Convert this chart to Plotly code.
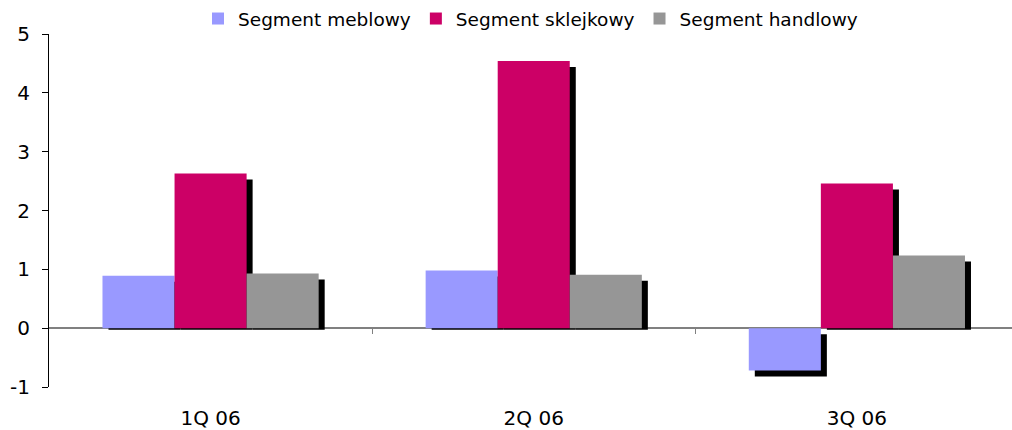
import plotly.graph_objects as go

categories = ["1Q 06", "2Q 06", "3Q 06"]
series_names = ["Segment meblowy", "Segment sklejkowy", "Segment handlowy"]
meblowy = [0.89, 0.98, -0.72]
sklejkowy = [2.63, 4.54, 2.46]
handlowy = [0.93, 0.91, 1.235]
colors = ["#9999FF", "#CC0066", "#969696"]
y_ticks = [-1, 0, 1, 2, 3, 4, 5]

series = [meblowy, sklejkowy, handlowy]

X_RANGE = [-0.5, 2.48]
BAR_W = 0.223
offsets = [-1.5 * BAR_W, -0.5 * BAR_W, 0.5 * BAR_W]
SH_DX = 0.0186   # shadow horizontal shift (category units)
SH_DY = 0.102    # shadow vertical shift (data units)
SH_B = 0.025     # shadow extension below zero for positive bars

FONT = "DejaVu Sans, Arial, sans-serif"

fig = go.Figure()

# shadows (behind)
for vals, off in zip(series, offsets):
    bases = [(-SH_B if v >= 0 else -SH_DY) for v in vals]
    heights = [(v - SH_DY + SH_B if v >= 0 else v) for v in vals]
    fig.add_trace(go.Bar(
        x=categories, y=heights, base=bases,
        width=BAR_W, offset=off + SH_DX,
        marker=dict(color="black", line=dict(width=0)),
        showlegend=False, hoverinfo="skip",
    ))

# bars
for name, vals, off, col in zip(series_names, series, offsets, colors):
    fig.add_trace(go.Bar(
        x=categories, y=vals, name=name,
        width=BAR_W, offset=off,
        marker=dict(color=col, line=dict(width=0)),
    ))

# dummy trace to activate the zero-line axis
fig.add_trace(go.Scatter(x=[0], y=[0], xaxis="x2", mode="markers",
                         marker=dict(opacity=0), showlegend=False, hoverinfo="skip"))

fig.update_layout(
    width=1012, height=430,
    margin=dict(l=49, r=0, t=34, b=43, autoexpand=False),
    paper_bgcolor="white", plot_bgcolor="white",
    barmode="overlay",
    font=dict(family=FONT, size=18.5, color="black"),
    showlegend=True,
    legend=dict(orientation="h", x=0.5, xanchor="center",
                y=1.0, yref="container", yanchor="top",
                font=dict(family=FONT, size=18.5, color="black"),
                traceorder="normal", itemwidth=30, tracegroupgap=0,
                bgcolor="rgba(0,0,0,0)"),
    xaxis=dict(
        type="category", range=X_RANGE, automargin=False,
        showline=False, showgrid=False, zeroline=False,
        ticks="outside", ticklen=13, tickcolor="rgba(0,0,0,0)",
        tickfont=dict(family=FONT, size=20, color="black"),
    ),
    xaxis2=dict(
        overlaying="x", anchor="free", position=1 / 6, automargin=False,
        range=X_RANGE, showgrid=False, zeroline=False,
        showline=True, linecolor="#808080", linewidth=1.5,
        ticks="outside", ticklen=5, tickcolor="#808080", tickwidth=1,
        tickvals=[0.5, 1.5], showticklabels=False, layer="below traces",
    ),
    yaxis=dict(
        range=[-1, 5], tickvals=y_ticks, ticktext=[str(t) for t in y_ticks],
        showgrid=False, zeroline=False, automargin=False,
        showline=True, linecolor="black", linewidth=1,
        ticks="outside", ticklen=6, tickcolor="black",
        ticklabelstandoff=8,
        tickfont=dict(family=FONT, size=20, color="black"),
    ),
)

fig.write_html("out.html", config={"displayModeBar": False},
               post_script="document.body.style.margin='0';document.body.style.overflow='hidden';")
